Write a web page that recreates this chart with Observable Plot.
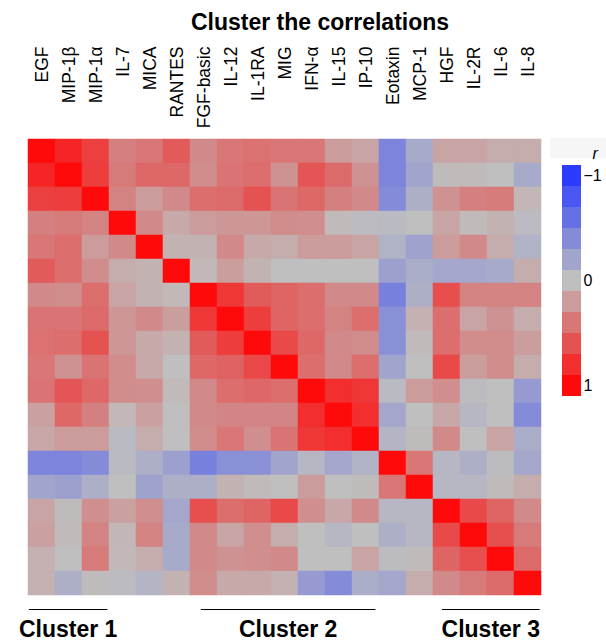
<!DOCTYPE html>
<html><head><meta charset="utf-8">
<script src="https://cdn.jsdelivr.net/npm/d3@7"></script>
<script src="https://cdn.jsdelivr.net/npm/@observablehq/plot@0.6"></script>
<style>
body{margin:0;background:#fff;}
#chart{position:relative;width:606px;height:641px;}
</style>
</head><body><div id="chart"></div>
<script>
const titleText = "Cluster the correlations";
const labels = ["EGF","MIP-1β","MIP-1α","IL-7","MICA","RANTES","FGF-basic","IL-12","IL-1RA","MIG","IFN-α","IL-15","IP-10","Eotaxin","MCP-1","HGF","IL-2R","IL-6","IL-8"];
const corr = [
  [1, .85, .7, .35, .4, .55, .3, .4, .43, .4, .4, .2, .15, -.45, -.16, .15, .15, .1, .1],
  [.85, 1, .72, .38, .48, .48, .28, .42, .45, .25, .58, .47, .25, -.45, -.2, .02, .03, 0, -.16],
  [.7, .72, 1, .33, .2, .3, .45, .47, .6, .42, .48, .35, .3, -.4, -.12, .25, .35, .38, .05],
  [.35, .38, .33, 1, .3, .12, .2, .22, .22, .28, .27, .03, -.03, -.04, 0, .15, .03, .07, -.03],
  [.4, .45, .2, .3, 1, .07, .07, .3, .12, .1, .2, .2, .15, -.1, -.22, .2, .3, .1, -.1],
  [.55, .45, .28, .1, .07, 1, .04, .18, .07, 0, 0, 0, 0, -.24, -.14, -.18, -.18, -.16, .1],
  [.3, .28, .45, .15, .07, .04, 1, .75, .55, .5, .45, .3, .3, -.48, -.12, .62, .33, .33, .33],
  [.42, .42, .47, .22, .3, .18, .75, 1, .72, .5, .45, .33, .45, -.36, .08, .45, .15, .25, .1],
  [.43, .45, .6, .22, .12, .07, .55, .72, 1, .65, .48, .3, .28, -.36, .03, .45, .28, .28, .18],
  [.4, .25, .42, .28, .12, 0, .48, .52, .65, 1, .45, .3, .45, -.2, 0, .65, .18, .28, .1],
  [.42, .58, .48, .28, .27, .03, .3, .45, .48, .45, 1, .8, .75, -.04, .2, .27, -.02, 0, -.28],
  [.17, .48, .35, .04, .17, 0, .3, .32, .32, .32, .8, 1, .8, -.18, 0, .13, -.06, 0, -.4],
  [.13, .2, .2, -.04, .1, 0, .28, .4, .27, .42, .75, .8, 1, -.08, .02, .3, 0, .15, -.14],
  [-.45, -.45, -.4, -.04, -.12, -.24, -.48, -.36, -.36, -.2, -.06, -.18, -.1, 1, .4, -.06, -.12, -.02, -.18],
  [-.2, -.24, -.12, 0, -.22, -.12, -.12, .07, .03, 0, .2, 0, .02, .4, 1, -.06, -.06, .03, .1],
  [.15, .02, .27, .17, .27, -.18, .62, .45, .5, .65, .27, .13, .3, -.06, -.06, 1, .65, .5, .3],
  [.17, .03, .33, .05, .33, -.16, .3, .15, .27, .1, 0, -.06, 0, -.12, -.06, .65, 1, .62, .38],
  [.08, 0, .38, .04, .1, -.16, .3, .25, .27, .3, 0, 0, .15, -.02, .03, .5, .62, 1, .47],
  [.08, -.12, .02, -.03, -.08, .07, .28, .12, .12, .08, -.28, -.4, -.14, -.18, .1, .3, .38, .47, 1]
];
const legendSteps = [-1, -0.8, -0.6, -0.4, -0.2, 0, 0.2, 0.4, 0.6, 0.8, 1];
const legendTicks = [-1, 0, 1];
const legendTickText = ["−1", "0", "1"];
const legendTitle = "r";
const clusterNames = ["Cluster 1", "Cluster 2", "Cluster 3"];
const clusterFirst = ["EGF", "FGF-basic", "HGF"];
const clusterLast = ["MIP-1α", "IP-10", "IL-8"];

const cells = [];
labels.forEach((rl, i) => labels.forEach((cl, j) => cells.push({row: rl, col: cl, r: corr[i][j]})));

const FONT = "'Liberation Sans', Arial, Helvetica, sans-serif";
const color = {type: "linear", domain: [-1, 0, 1], range: ["#2b3cff", "#bfbfbf", "#ff0a0a"], interpolate: "rgb"};

const W = 606, H = 641;
const plot = Plot.plot({
  width: W, height: H,
  marginTop: 138, marginLeft: 22, marginRight: 59, marginBottom: 46,
  style: {fontFamily: FONT, background: "white", overflow: "visible", color: "black"},
  x: {domain: labels, padding: 0, axis: null},
  y: {domain: labels, padding: 0, axis: null},
  color,
  marks: [
    Plot.cell(cells, {x: "col", y: "row", fill: "r", stroke: "r", strokeWidth: 0.5, inset: 0}),
    Plot.text(labels, {x: d => d, frameAnchor: "top", rotate: -90, textAnchor: "end", lineAnchor: "middle", dy: -92, fontSize: 17.5, fill: "black"})
  ]
});

const svg = d3.select(plot);
svg.append("text")
  .attr("x", 320).attr("y", 30)
  .attr("text-anchor", "middle")
  .attr("font-family", FONT).attr("font-size", 23).attr("font-weight", "bold")
  .attr("fill", "black")
  .text(titleText);

// cluster annotations positioned through the x band scale
const xs = plot.scale("x");
const bw = xs.bandwidth;
const insetStart = [0.03, 0.4, 0.33];
const insetEnd = [0.06, 0.13, 0.05];
clusterNames.forEach((name, i) => {
  const x1 = xs.apply(clusterFirst[i]) + insetStart[i] * bw;
  const x2 = xs.apply(clusterLast[i]) + bw - insetEnd[i] * bw;
  svg.append("line").attr("x1", x1).attr("x2", x2).attr("y1", 609.5).attr("y2", 609.5)
    .attr("stroke", "black").attr("stroke-width", 1.2);
  svg.append("text").attr("x", (x1 + x2) / 2).attr("y", 637)
    .attr("text-anchor", "middle")
    .attr("font-family", FONT).attr("font-size", 23).attr("font-weight", "bold")
    .attr("fill", "black").text(name);
});

// faint background behind legend title
svg.append("rect").attr("x", 550).attr("y", 138).attr("width", 56).attr("height", 20).attr("fill", "#f6f6f6");

const legend = Plot.plot({
  width: 66, height: 280,
  marginLeft: 22, marginRight: 25, marginTop: 30, marginBottom: 9,
  style: {fontFamily: FONT, background: "transparent", overflow: "visible", color: "black"},
  x: {axis: null},
  y: {domain: legendSteps, padding: 0, axis: null},
  color,
  marks: [
    Plot.cell(legendSteps, {y: d => d, fill: d => d}),
    Plot.text(legendTicks, {y: d => d, text: (d, i) => legendTickText[i], frameAnchor: "right", textAnchor: "start", dx: 2, fontSize: 16, fill: "black"}),
    Plot.text([legendTitle], {frameAnchor: "top-right", textAnchor: "start", dx: 11, dy: -13, fontStyle: "italic", fontSize: 16, fill: "black"})
  ]
});
legend.setAttribute("x", 540);
legend.setAttribute("y", 130);
legend.style.width = "66px";
legend.style.height = "280px";
legend.style.maxWidth = "none";
plot.appendChild(legend);

document.getElementById("chart").appendChild(plot);
</script>
</body></html>
